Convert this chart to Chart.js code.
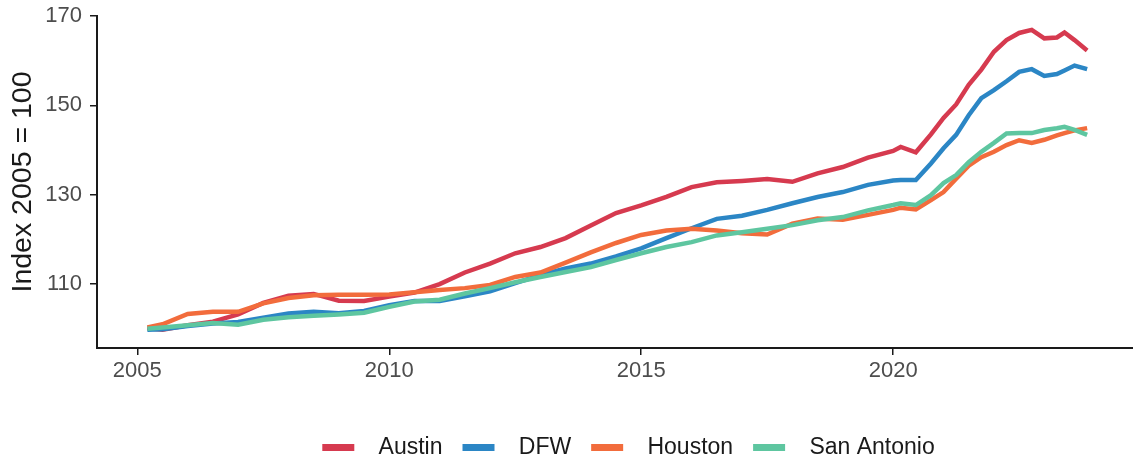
<!DOCTYPE html>
<html lang="en">
<head>
    <meta charset="UTF-8">
    <title>Home price index, Texas metros</title>
    <script src="https://cdn.jsdelivr.net/npm/chart.js"></script>
    <style>
        html, body {
            margin: 0;
            padding: 0;
            background: #fff;
        }
        #wrap {
            width: 1133px;
            height: 461px;
        }
    </style>
</head>
<body>
    <div id="wrap"><canvas id="indexChart"></canvas></div>
    <script>
        // years (decimal)
        const years = [
            2005.2, 2005.5, 2006, 2006.5, 2007, 2007.5, 2008, 2008.5, 2009, 2009.5,
            2010, 2010.5, 2011, 2011.5, 2012, 2012.5, 2013, 2013.5, 2014, 2014.5,
            2015, 2015.5, 2016, 2016.5, 2017, 2017.5, 2018, 2018.5, 2019, 2019.5,
            2020, 2020.15, 2020.45, 2020.75, 2021, 2021.25, 2021.5, 2021.75,
            2022, 2022.25, 2022.5, 2022.75, 2023, 2023.25, 2023.4, 2023.6, 2023.85
        ];

        const austin = [
            100.1, 99.8, 100.8, 101.6, 103.2, 105.8, 107.4, 107.8, 106.3, 106.2,
            107.2, 108.1, 110.0, 112.6, 114.6, 116.9, 118.3, 120.3, 123.1, 125.9,
            127.6, 129.5, 131.7, 132.8, 133.1, 133.5, 132.9, 134.8, 136.2, 138.3,
            139.8, 140.7, 139.5, 143.5, 147.2, 150.2, 154.6, 158.0,
            162.0, 164.6, 166.2, 166.9, 165.0, 165.2, 166.3, 164.6, 162.3
        ];
        const dfw = [
            99.8, 99.9, 100.6, 101.2, 101.5, 102.5, 103.4, 103.8, 103.5, 104.0,
            105.3, 106.2, 106.2, 107.3, 108.4, 110.2, 112.0, 113.5, 114.6, 116.2,
            118.0, 120.3, 122.5, 124.6, 125.3, 126.6, 128.1, 129.5, 130.6, 132.2,
            133.2, 133.3, 133.3, 137.0, 140.4, 143.4, 147.8, 151.6,
            153.4, 155.4, 157.5, 158.1, 156.6, 157.0, 157.8, 158.9, 158.1
        ];
        const houston = [
            100.3, 101.0, 103.3, 103.8, 103.8, 105.7, 106.9, 107.5, 107.6, 107.6,
            107.7, 108.2, 108.7, 109.1, 109.8, 111.6, 112.6, 114.8, 117.1, 119.2,
            121.0, 122.0, 122.4, 122.0, 121.4, 121.1, 123.5, 124.7, 124.4, 125.5,
            126.6, 127.1, 126.7, 128.8, 130.6, 133.6, 136.5, 138.4,
            139.6, 141.1, 142.2, 141.6, 142.3, 143.3, 143.8, 144.4, 144.9
        ];
        const sanAntonio = [
            100.0, 100.3, 100.8, 101.3, 100.9, 102.0, 102.6, 102.9, 103.2, 103.6,
            104.9, 106.1, 106.5, 107.9, 109.1, 110.4, 111.6, 112.7, 113.8, 115.4,
            116.9, 118.3, 119.4, 120.9, 121.6, 122.4, 123.2, 124.3, 125.0, 126.5,
            127.7, 128.1, 127.7, 129.9, 132.6, 134.4, 137.3, 139.6,
            141.6, 143.7, 143.8, 143.8, 144.5, 144.9, 145.2, 144.5, 143.4
        ];

        const seriesNames = ['Austin', 'DFW', 'Houston', 'San Antonio'];
        const seriesColors = ['#d63a4f', '#2b86c5', '#f26c3c', '#5ec6a0'];
        const seriesValues = [austin, dfw, houston, sanAntonio];

        const xTicks = [2005, 2010, 2015, 2020];
        const yTicks = [110, 130, 150, 170];

        const fontFamily = '"Liberation Sans", Arial, sans-serif';

        // nudge the legend to the right, it sits under the panel in the original
        const legendShift = {
            id: 'legendShift',
            afterLayout(chart) {
                chart.legend.left = 62;
                chart.legend.right = chart.width + 62;
            }
        };

        const ctx = document.getElementById('indexChart').getContext('2d');
        const datasets = seriesNames.map((name, i) => ({
            label: name,
            data: years.map((yr, j) => ({ x: yr, y: seriesValues[i][j] })),
            borderColor: seriesColors[i],
            backgroundColor: seriesColors[i],
            borderWidth: 4.5,
            pointRadius: 0,
            tension: 0,
            fill: false,
            order: seriesNames.length - i // last series on top, like ggplot
        }));

        new Chart(ctx, {
            type: 'line',
            data: { datasets: datasets },
            plugins: [legendShift],
            options: {
                responsive: true,
                maintainAspectRatio: false,
                animation: false,
                layout: { padding: { top: 16, right: 0, bottom: -8, left: 0 } },
                plugins: {
                    tooltip: { enabled: false },
                    legend: {
                        position: 'bottom',
                        labels: {
                            sort: (a, b) => a.datasetIndex - b.datasetIndex,
                            usePointStyle: true,
                            pointStyle: 'line',
                            pointStyleWidth: 32,
                            padding: 20,
                            color: '#1a1a1a',
                            font: { family: fontFamily, size: 23 },
                            generateLabels: chart =>
                                Chart.defaults.plugins.legend.labels.generateLabels(chart)
                                    .map(item => Object.assign(item, {
                                        text: '  ' + item.text,
                                        lineWidth: 7,
                                        pointStyle: 'line',
                                        lineCap: 'butt'
                                    }))
                        }
                    }
                },
                scales: {
                    x: {
                        type: 'linear',
                        min: 2004.2,
                        max: 2024.76,
                        afterBuildTicks: axis => { axis.ticks = xTicks.map(v => ({ value: v })); },
                        afterFit: axis => {
                            axis.height = 68;
                            axis.paddingLeft = 0;
                            axis.paddingRight = 0;
                        },
                        ticks: {
                            color: '#4d4d4d',
                            padding: 3,
                            maxRotation: 0,
                            font: { family: fontFamily, size: 22 },
                            callback: v => String(v)
                        },
                        grid: {
                            drawOnChartArea: false,
                            drawTicks: true,
                            tickLength: 7,
                            color: '#1a1a1a',
                            lineWidth: 1.5
                        },
                        border: { display: true, color: '#1a1a1a', width: 2 }
                    },
                    y: {
                        min: 95.7,
                        max: 170,
                        afterBuildTicks: axis => { axis.ticks = yTicks.map(v => ({ value: v })); },
                        afterFit: axis => {
                            axis.width = 97;
                            axis.paddingTop = 0;
                            axis.paddingBottom = 0;
                        },
                        ticks: {
                            color: '#4d4d4d',
                            padding: 8,
                            font: { family: fontFamily, size: 22 },
                            callback: v => String(v)
                        },
                        grid: {
                            drawOnChartArea: false,
                            drawTicks: true,
                            tickLength: 7,
                            color: '#1a1a1a',
                            lineWidth: 1.5
                        },
                        border: { display: true, color: '#1a1a1a', width: 2 },
                        title: {
                            display: true,
                            text: 'Index 2005 = 100',
                            color: '#1a1a1a',
                            padding: { top: 6, bottom: 0 },
                            font: { family: fontFamily, size: 28.5 }
                        }
                    }
                }
            }
        });
    </script>
</body>
</html>
